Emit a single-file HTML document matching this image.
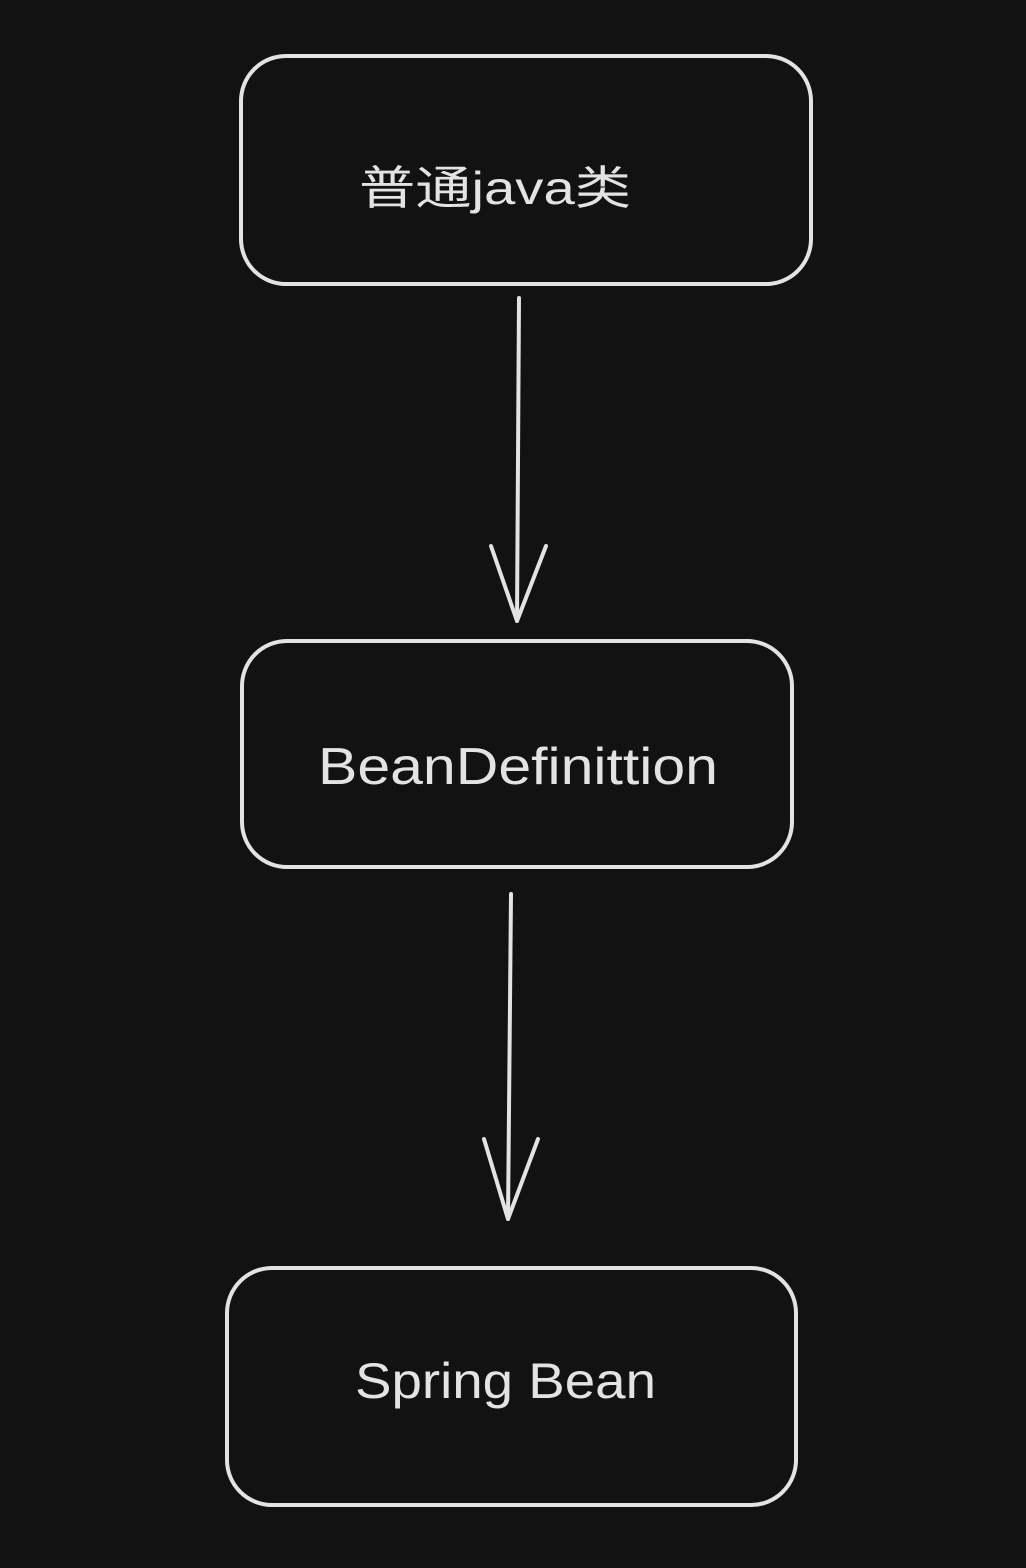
<!DOCTYPE html>
<html><head><meta charset="utf-8"><style>
html,body{margin:0;padding:0;background:#121212;}
svg{display:block;}
text{font-family:"Liberation Sans","Noto Sans CJK SC",sans-serif;fill:#e3e3e3;}
</style></head><body>
<svg width="1026" height="1568" viewBox="0 0 1026 1568" xmlns="http://www.w3.org/2000/svg">
<rect width="1026" height="1568" fill="#121212"/>
<g fill="none" stroke="#e3e3e3" stroke-width="4" stroke-linecap="round" stroke-linejoin="round">
<rect x="241" y="56" width="570" height="228" rx="45"/>
<rect x="242" y="641" width="550" height="226" rx="45"/>
<rect x="227" y="1268" width="569" height="237" rx="45"/>
<path d="M519 298 L517 621"/>
<path d="M491 546 L517 621 L546 546"/>
<path d="M511 894 L508 1219"/>
<path d="M484 1139 L508 1219 L538 1139"/>
</g>
<text x="359" y="204" font-size="46" textLength="272" lengthAdjust="spacingAndGlyphs">普通java类</text>
<text x="318" y="784" font-size="52" textLength="400" lengthAdjust="spacingAndGlyphs">BeanDefinittion</text>
<text x="355" y="1398" font-size="50" textLength="301" lengthAdjust="spacingAndGlyphs">Spring Bean</text>
</svg>
</body></html>
